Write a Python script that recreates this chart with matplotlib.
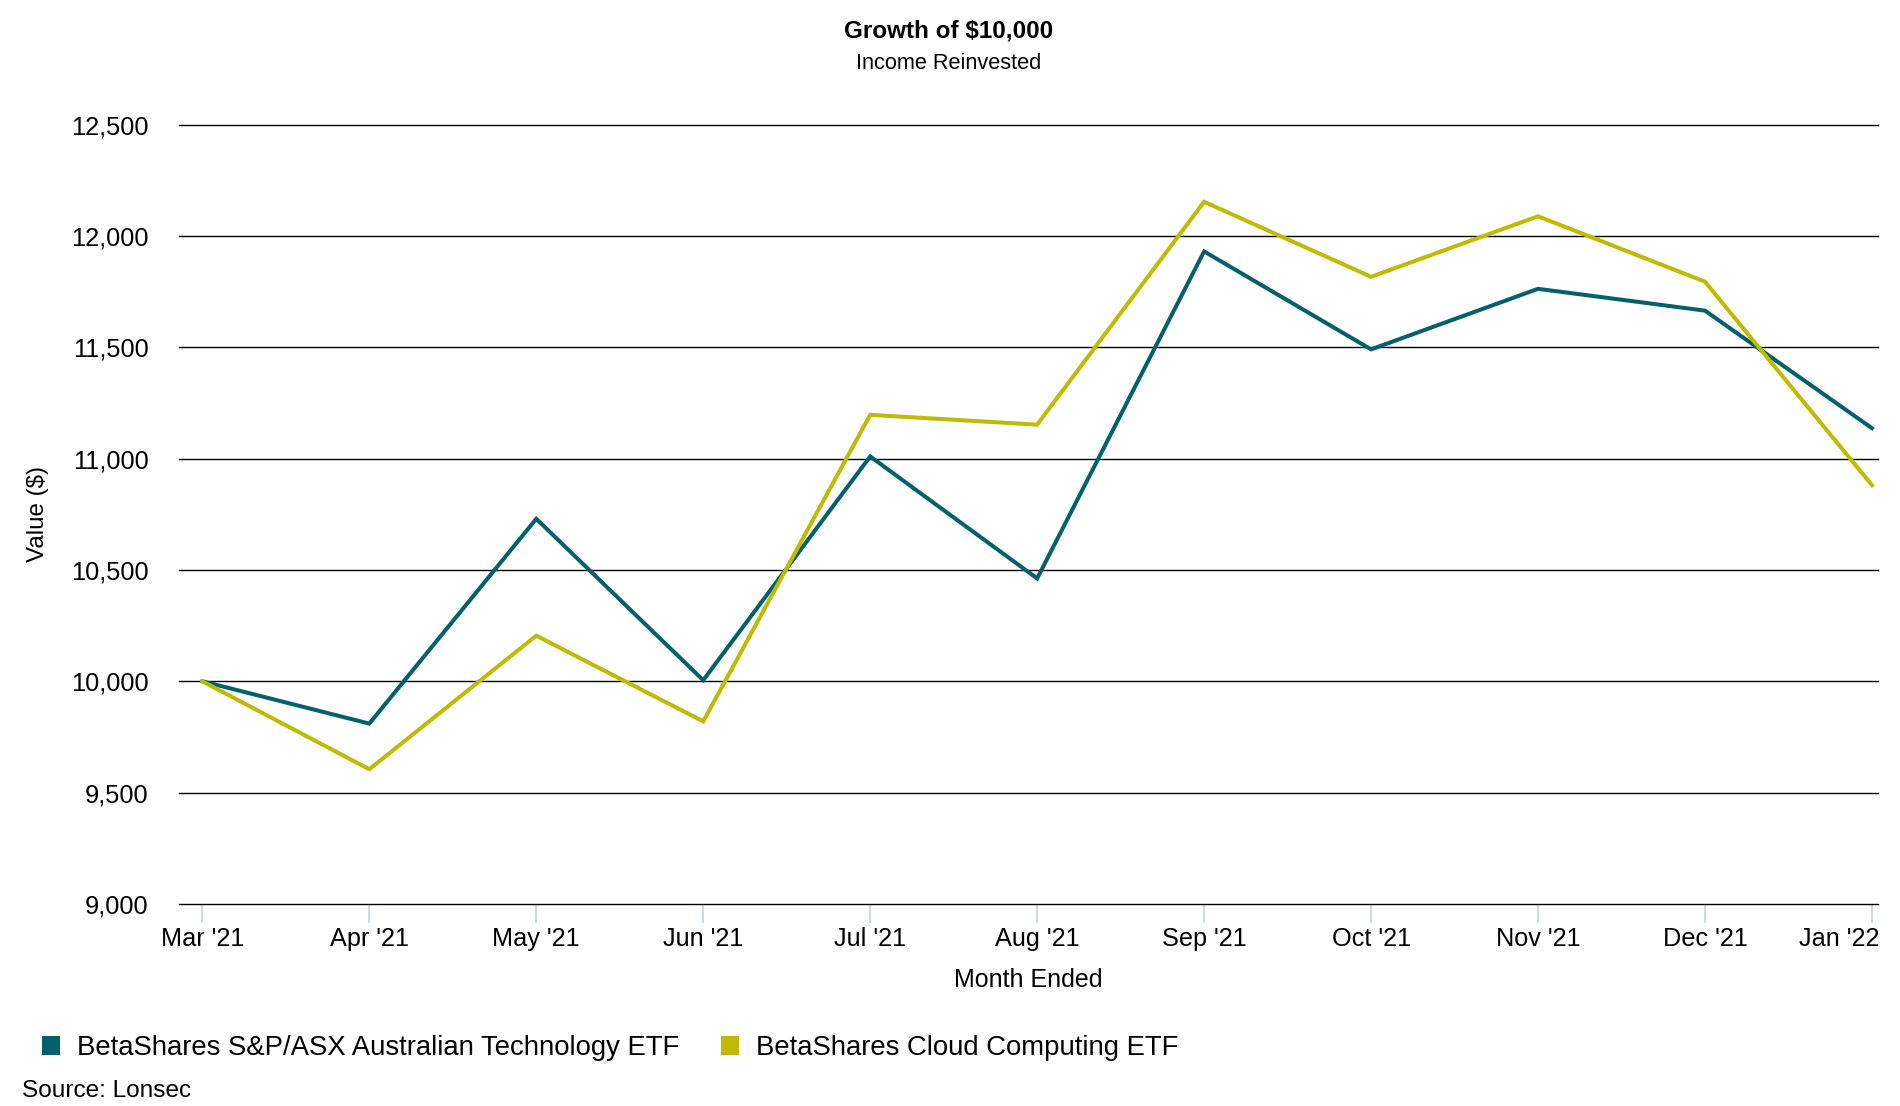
import matplotlib
matplotlib.use("Agg")
from matplotlib import pyplot as plt
from matplotlib.patches import Patch
from matplotlib.transforms import ScaledTranslation

months = ["Mar '21", "Apr '21", "May '21", "Jun '21", "Jul '21", "Aug '21",
          "Sep '21", "Oct '21", "Nov '21", "Dec '21", "Jan '22"]
ath_values = [10000, 9810, 10730, 10005, 11010, 10462, 11931, 11491, 11763, 11665, 11137]
cloud_values = [10000, 9605, 10205, 9820, 11197, 11153, 12154, 11817, 12089, 11795, 10881]
y_ticks = [9000, 9500, 10000, 10500, 11000, 11500, 12000, 12500]

ath_name = "BetaShares S&P/ASX Australian Technology ETF"
cloud_name = "BetaShares Cloud Computing ETF"
teal = "#03606c"
olive = "#c0bb00"

plt.rcParams['font.family'] = ['Liberation Sans', 'DejaVu Sans']

fig = plt.figure(figsize=(19, 11.06), dpi=100)
ax = fig.add_axes([0.0942, 0.1827, 0.8942, 0.7045])

x = list(range(len(months)))
ax.plot(x, ath_values, color=teal, linewidth=2.9, solid_joinstyle='miter', zorder=3)
ax.plot(x, cloud_values, color=olive, linewidth=2.9, solid_joinstyle='miter', zorder=3)

ax.set_xlim(-0.14, len(months) - 1 + 0.036)
ax.set_ylim(9000, 12500)
ax.set_yticks(y_ticks)
ax.set_yticklabels([f"{v:,}" for v in y_ticks])
ax.set_xticks(x)
ax.set_xticklabels(months)

ax.grid(axis='y', color='black', linewidth=1.0)
for gl in ax.get_ygridlines():
    gl.set_clip_on(False)
ax.set_axisbelow(True)
for s in ax.spines.values():
    s.set_visible(False)

ax.tick_params(axis='y', length=0, pad=22, labelsize=18.3)
ax.tick_params(axis='x', length=13.7, width=1.2, color='#c4d2e0', pad=3.2, labelsize=18.2)

# last month label is pulled left so it stays inside the figure
last = ax.get_xticklabels()[-1]
last.set_transform(last.get_transform() + ScaledTranslation(-33 / 100, 0, fig.dpi_scale_trans))

ax.set_xlabel('Month Ended', fontsize=18)
ax.xaxis.set_label_coords(0.5, -0.098)
ax.xaxis.label.set_va('center')
ax.set_ylabel('Value ($)', fontsize=17.4)
ax.yaxis.set_label_coords(-0.083, 0.5)
ax.yaxis.label.set_va('center')

fig.text(0.4995, 0.9716, 'Growth of $10,000', ha='center', va='center',
         fontsize=17.5, fontweight='bold')
fig.text(0.4995, 0.943, 'Income Reinvested', ha='center', va='center', fontsize=15.7)

handles = [Patch(facecolor=teal, edgecolor='none'), Patch(facecolor=olive, edgecolor='none')]
fig.legend(handles, [ath_name, cloud_name], loc='center left', bbox_to_anchor=(0.022, 0.0523),
           ncol=2, frameon=False, fontsize=19.8, borderpad=0, borderaxespad=0,
           handlelength=0.65, handleheight=0.65, handletextpad=0.62, columnspacing=1.54)

fig.text(0.0115, 0.014, 'Source: Lonsec', ha='left', va='center', fontsize=17.6)

fig.savefig('out.png', dpi=100)
